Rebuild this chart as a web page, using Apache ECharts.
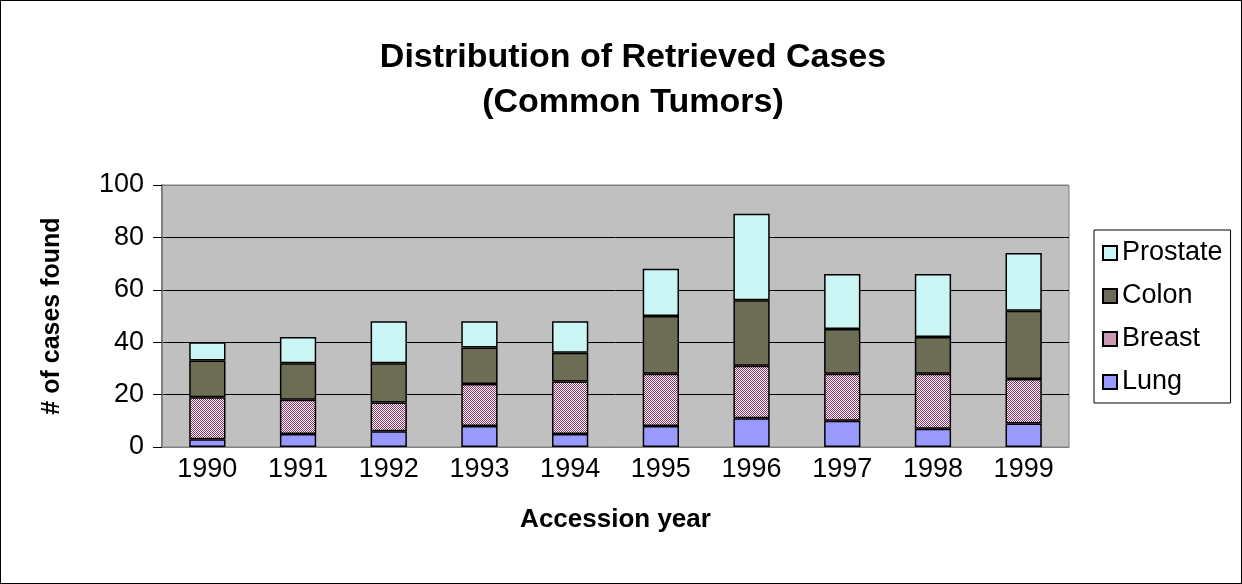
<!DOCTYPE html>
<html>
<head>
<meta charset="utf-8">
<script src="https://cdn.jsdelivr.net/npm/echarts@6/dist/echarts.min.js"></script>
<style>
  html, body { margin: 0; padding: 0; background: #fff; }
  #chart { width: 1242px; height: 584px; box-sizing: border-box; border: 1px solid #000; }
</style>
</head>
<body>
<div id="chart"></div>
<script>
const years = ['1990', '1991', '1992', '1993', '1994', '1995', '1996', '1997', '1998', '1999'];
const lung = [3, 5, 6, 8, 5, 8, 11, 10, 7, 9];
const breast = [16, 13, 11, 16, 20, 20, 20, 18, 21, 17];
const colon = [14, 14, 15, 14, 11, 22, 25, 17, 14, 26];
const prostate = [7, 10, 16, 10, 12, 18, 33, 21, 24, 22];

const font = '"Liberation Sans", Arial, sans-serif';

// checker pattern used for the breast series
function checker(fg, bg) {
  const c = document.createElement('canvas');
  c.width = 2;
  c.height = 2;
  const ctx = c.getContext('2d');
  ctx.fillStyle = bg;
  ctx.fillRect(0, 0, 2, 2);
  ctx.fillStyle = fg;
  ctx.fillRect(0, 0, 1, 1);
  ctx.fillRect(1, 1, 1, 1);
  return { image: c, repeat: 'repeat' };
}

function bar(name, data, color) {
  return {
    name,
    type: 'bar',
    stack: 'total',
    data,
    barWidth: '40%',
    itemStyle: { color, borderColor: '#000', borderWidth: 1.5 },
    emphasis: { disabled: true },
  };
}

const chart = echarts.init(document.getElementById('chart'));
chart.setOption({
  animation: false,
  textStyle: { fontFamily: font },
  title: {
    text: 'Distribution of Retrieved Cases\n(Common Tumors)',
    left: 632,
    top: 34,
    padding: 0,
    textAlign: 'center',
    textStyle: { fontFamily: font, fontSize: 34, fontWeight: 'bold', color: '#000', lineHeight: 45 },
  },
  legend: {
    orient: 'vertical',
    left: 1093,
    top: 229,
    padding: [9, 8, 7, 8],
    itemGap: 15,
    itemWidth: 14,
    itemHeight: 14,
    borderColor: '#000',
    borderWidth: 1,
    backgroundColor: '#fff',
    borderRadius: 0,
    data: [
      { name: 'Prostate' },
      { name: 'Colon' },
      { name: 'Breast', itemStyle: { color: '#CC99B2' } },
      { name: 'Lung' },
    ],
    textStyle: { fontFamily: font, fontSize: 27, color: '#000', lineHeight: 28 },
    icon: 'rect',
  },
  grid: {
    left: 161,
    right: 172,
    top: 184,
    bottom: 136,
    show: true,
    backgroundColor: '#C0C0C0',
    borderColor: '#808080',
    borderWidth: 1,
  },
  xAxis: {
    type: 'category',
    data: years,
    name: 'Accession year',
    nameLocation: 'middle',
    nameGap: 60,
    nameTextStyle: { fontFamily: font, fontSize: 26, fontWeight: 'bold', color: '#000' },
    axisLine: { lineStyle: { color: '#808080', width: 1 } },
    axisTick: { length: 7, lineStyle: { color: '#808080' } },
    axisLabel: { fontSize: 27, color: '#000', margin: 9 },
  },
  yAxis: {
    type: 'value',
    min: 0,
    max: 100,
    interval: 20,
    name: '# of cases found',
    nameLocation: 'middle',
    nameGap: 97,
    nameTextStyle: { fontFamily: font, fontSize: 25, fontWeight: 'bold', color: '#000' },
    axisLine: { show: true, lineStyle: { color: '#808080', width: 2 } },
    axisTick: { show: true, length: 9, lineStyle: { color: '#000' } },
    axisLabel: { fontSize: 27, color: '#000', margin: 18 },
    splitLine: { lineStyle: { color: ['#000', '#000', '#000', '#000', '#000', '#808080'], width: 1 } },
  },
  series: [
    bar('Lung', lung, '#9999FF'),
    bar('Breast', breast, checker('#993366', '#ffffff')),
    bar('Colon', colon, '#6D6D55'),
    bar('Prostate', prostate, '#CCF5F5'),
  ],
});
</script>
</body>
</html>
